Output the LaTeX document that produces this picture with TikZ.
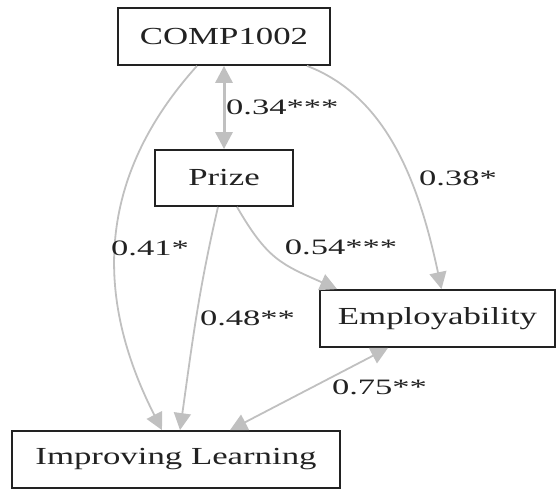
\documentclass[tikz,border=0pt]{standalone}
\usepackage{fontspec}
\setmainfont{Liberation Serif}[FakeStretch=1.42]
\newfontfamily\weightfont{Liberation Serif}[FakeStretch=1.57]
\usetikzlibrary{arrows.meta}
\definecolor{edgegray}{HTML}{C0C0C0}
\definecolor{inkgray}{HTML}{222222}

\begin{document}
\begin{tikzpicture}[x=1pt,y=1pt,>={Triangle[length=17pt,width=17pt]}]
            \useasboundingbox (0,0) rectangle (556,489);
            \begin{scope}[every node/.style={rectangle,draw=inkgray,line width=1.8pt,text=inkgray,minimum height=57pt,inner sep=0pt,font=\fontsize{24.5}{28}\selectfont}]
                \node[minimum width=212pt] (comp) at (224,452.5) {COMP1002};
                \node[minimum width=138pt,minimum height=56pt] (prize) at (224,311) {Prize};
                \node[minimum width=235pt] (employ) at (437.5,170.5) {Employability};
                \node[minimum width=328pt] (improve) at (176,29.5) {Improving Learning};
            \end{scope}
            \begin{scope}[every edge/.style={draw=edgegray,line width=1.8pt,->}]
                \path
                    (comp.south) edge [<->,line width=3pt] (prize.north)
                    ([xshift=-27pt]comp.south) edge [out=228,in=117,looseness=1.05] ([xshift=-14pt]improve.north)
                    ([xshift=-6pt]prize.south) edge [out=257,in=82] ([xshift=4pt]improve.north)
                    ([xshift=13pt]prize.south) edge [out=300,in=156,looseness=1.2] ([xshift=18pt]employ.north west)
                    ([xshift=83pt]comp.south) edge [out=339,in=102,out looseness=0.82,in looseness=1.12] ([xshift=4pt]employ.north)
                    ([xshift=-49.5pt]employ.south) edge [<->] ([xshift=54pt]improve.north);
            \end{scope}
            \begin{scope}[every node/.style={text=inkgray,inner sep=0pt,font=\weightfont\fontsize{22}{26}\selectfont}]
                \node[anchor=west] (w34) at (226,382) {0.34***};
                \node (w41) at (150,241) {0.41*};
                \node (w48) at (247.5,171) {0.48**};
                \node (w54) at (341,242) {0.54***};
                \node (w38) at (458,311) {0.38*};
                \node (w75) at (379.5,102) {0.75**};
            \end{scope}
        \end{tikzpicture}
\end{document}
